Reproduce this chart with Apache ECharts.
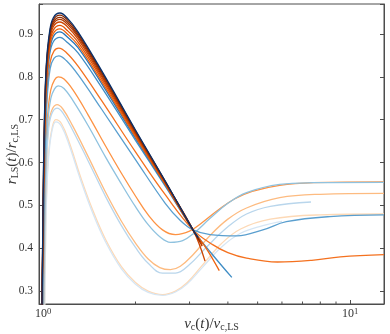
<!DOCTYPE html>
<html><head><meta charset="utf-8">
<script src="https://cdn.jsdelivr.net/npm/echarts@6/dist/echarts.min.js"></script>
<style>html,body{margin:0;padding:0;background:#fff}#c{width:390px;height:334px}</style>
</head><body><div id="c"></div>
<script>
// ---- data (x = v_c(t)/v_c,LS, y = r_LS(t)/r_c,LS) ----
const yTickValues = [0.3, 0.4, 0.5, 0.6, 0.7, 0.8, 0.9];
const xMinorTicks = [2, 3, 4, 5, 6, 7, 8, 9];

const O1 = [[1.01,0.2],[1.018,0.40],[1.028,0.54],[1.045,0.63],[1.07,0.68],[1.10,0.70],[1.15,0.69],[1.22,0.645],[1.32,0.57],[1.45,0.49],[1.6,0.42],[1.8,0.357],[2.0,0.32],[2.2,0.3],[2.45,0.292],[2.7,0.3],[2.95,0.32],[3.3,0.36],[3.8,0.41],[4.4,0.445],[5.5,0.468],[8,0.478],[12.9,0.48]];
const B1 = [[1.01,0.2],[1.018,0.39],[1.028,0.53],[1.045,0.62],[1.07,0.675],[1.10,0.695],[1.15,0.684],[1.22,0.638],[1.32,0.563],[1.45,0.483],[1.6,0.414],[1.8,0.352],[2.0,0.316],[2.2,0.297],[2.45,0.29],[2.7,0.298],[2.95,0.317],[3.3,0.355],[3.8,0.402],[4.4,0.435],[5.2,0.453],[6.0,0.463]];
const O2 = [[1.005,0.2],[1.015,0.45],[1.025,0.59],[1.04,0.68],[1.065,0.72],[1.11,0.735],[1.16,0.725],[1.25,0.685],[1.4,0.615],[1.6,0.53],[1.8,0.463],[2.0,0.412],[2.2,0.375],[2.4,0.355],[2.6,0.35],[2.8,0.358],[3.08,0.385],[3.5,0.43],[4.0,0.468],[4.6,0.494],[5.9,0.518],[8,0.526],[12.9,0.528]];
const B2 = [[1.005,0.2],[1.015,0.44],[1.025,0.58],[1.04,0.67],[1.065,0.712],[1.11,0.727],[1.16,0.716],[1.25,0.675],[1.4,0.605],[1.6,0.52],[1.8,0.453],[2.0,0.402],[2.2,0.365],[2.45,0.342],[2.7,0.342],[3.0,0.362],[3.4,0.402],[4.0,0.45],[4.6,0.48],[5.5,0.498],[7.46,0.508]];
const O3 = [[1.0,0.2],[1.01,0.45],[1.02,0.6],[1.035,0.71],[1.06,0.77],[1.09,0.793],[1.12,0.80],[1.17,0.795],[1.25,0.77],[1.4,0.712],[1.6,0.638],[1.8,0.575],[2.0,0.522],[2.2,0.478],[2.45,0.443],[2.7,0.432],[3.0,0.44],[3.3,0.46],[3.7,0.488],[4.2,0.515],[4.8,0.533],[5.9,0.547],[7.6,0.553],[12.9,0.555]];
const B3 = [[1.0,0.2],[1.01,0.44],[1.02,0.59],[1.035,0.69],[1.06,0.75],[1.09,0.772],[1.12,0.779],[1.17,0.773],[1.25,0.745],[1.4,0.687],[1.6,0.612],[1.8,0.55],[2.0,0.497],[2.2,0.455],[2.4,0.427],[2.6,0.414],[2.85,0.418],[3.1,0.435],[3.5,0.47],[4.0,0.505],[4.6,0.53],[5.9,0.549],[7.6,0.553],[12.9,0.554]];
const O4 = [[0.995,0.2],[1.005,0.45],[1.015,0.63],[1.03,0.76],[1.055,0.835],[1.085,0.86],[1.125,0.867],[1.19,0.857],[1.3,0.825],[1.55,0.745],[2.0,0.625],[2.5,0.525],[3.08,0.443],[3.58,0.408],[4.0,0.39],[4.6,0.377],[5.8,0.368],[7.5,0.372],[9.3,0.38],[12.9,0.385]];
const B4 = [[0.995,0.2],[1.005,0.44],[1.015,0.62],[1.03,0.745],[1.055,0.82],[1.085,0.843],[1.125,0.849],[1.19,0.838],[1.3,0.805],[1.55,0.725],[2.0,0.607],[2.5,0.505],[2.8,0.465],[3.08,0.443],[3.5,0.432],[4.28,0.429],[5.2,0.443],[6.2,0.462],[8.6,0.474],[12.9,0.478]];
const B5 = [[0.99,0.2],[1.0,0.42],[1.01,0.62],[1.025,0.765],[1.05,0.85],[1.08,0.882],[1.135,0.892],[1.2,0.880],[1.3,0.856],[1.55,0.776],[2.0,0.652],[2.5,0.545],[3.08,0.443],[3.5,0.392],[4.12,0.332]];
const B6 = [[0.99,0.2],[1.0,0.43],[1.01,0.63],[1.025,0.775],[1.05,0.86],[1.08,0.894],[1.135,0.905],[1.2,0.893],[1.3,0.868],[1.55,0.785],[2.0,0.657],[2.5,0.548],[3.08,0.443],[3.25,0.42]];
const O5 = [[0.99,0.2],[1.0,0.44],[1.01,0.64],[1.025,0.78],[1.05,0.866],[1.08,0.901],[1.135,0.912],[1.2,0.900],[1.3,0.874],[1.55,0.790],[2.0,0.660],[2.5,0.549],[3.08,0.443],[3.4,0.40],[3.75,0.348]];
const O6 = [[0.99,0.2],[1.0,0.45],[1.01,0.65],[1.025,0.79],[1.05,0.875],[1.08,0.909],[1.135,0.920],[1.2,0.908],[1.3,0.881],[1.55,0.796],[2.0,0.664],[2.5,0.551],[3.08,0.442],[3.3,0.41]];
const O7 = [[0.99,0.2],[1.0,0.46],[1.01,0.66],[1.025,0.80],[1.05,0.883],[1.08,0.917],[1.135,0.928],[1.2,0.917],[1.3,0.888],[1.55,0.801],[2.0,0.667],[2.5,0.553],[3.08,0.443],[3.37,0.37]];
const O8 = [[0.99,0.2],[1.0,0.47],[1.01,0.67],[1.025,0.81],[1.05,0.89],[1.08,0.923],[1.135,0.934],[1.2,0.923],[1.3,0.893],[1.55,0.805],[2.0,0.670],[2.5,0.554],[3.08,0.442],[3.3,0.405]];
const O9 = [[0.99,0.2],[1.0,0.48],[1.01,0.68],[1.025,0.82],[1.05,0.895],[1.08,0.928],[1.135,0.939],[1.2,0.928],[1.3,0.897],[1.55,0.809],[2.0,0.672],[2.5,0.555],[3.08,0.443],[3.25,0.415]];
const O10 = [[0.99,0.2],[1.0,0.49],[1.01,0.69],[1.025,0.825],[1.05,0.90],[1.08,0.933],[1.135,0.944],[1.2,0.933],[1.3,0.901],[1.55,0.812],[2.0,0.674],[2.5,0.556],[3.08,0.442],[3.22,0.42]];
const B10 = [[0.99,0.2],[1.0,0.50],[1.01,0.70],[1.025,0.83],[1.05,0.905],[1.08,0.938],[1.135,0.949],[1.2,0.937],[1.3,0.905],[1.55,0.815],[2.0,0.676],[2.5,0.557],[3.08,0.443],[3.2,0.425]];

const curves = [O1, B1, O2, B2, O3, B3, O4, B4, B5, B6, O5, O6, O7, O8, O9, O10, B10];
const curveColors = ['#fdd9b6','#d6e6f4','#fdbb80','#b9d6ec','#fd9344','#8fc2df','#f4711f','#5a9fcf','#3f8dc5','#2676b8','#ee6410','#e05306','#cc4603','#b23b03','#973003','#7f2704','#08306b'];

// ---- chart ----
const axisColor = '#4d4d4d';
const textColor = '#333';
const serif = 'Liberation Serif';
const chart = echarts.init(document.getElementById('c'), null, {renderer: 'canvas'});

const series = curves.map((d, i) => ({
  type: 'line', data: d, smooth: 0.4, showSymbol: false, symbol: 'none',
  lineStyle: {color: curveColors[i], width: 1.3}, clip: true, silent: true, z: 2 + i * 0.01
}));
series.push({
  type: 'custom', silent: true, clip: false, z: 10,
  data: xMinorTicks.map(v => [v, 0.27]), encode: {x: 0, y: 1},
  renderItem: (params, api) => {
    const p = api.coord([api.value(0), api.value(1)]);
    return {type: 'line', shape: {x1: p[0], y1: p[1], x2: p[0], y2: p[1] - 2.5},
            style: {stroke: axisColor, lineWidth: 1}};
  }
});

const near = (v, list) => list.some(t => Math.abs(t - v) < 1e-6);
const nameStyle = {
  fontFamily: serif, fontSize: 15, color: textColor,
  rich: {
    i: {fontFamily: serif, fontStyle: 'italic', fontSize: 15, color: textColor},
    n: {fontFamily: serif, fontSize: 15, color: textColor},
    sub: {fontFamily: serif, fontSize: 10, color: textColor, verticalAlign: 'bottom', padding: [5, 0, 0, 0]}
  }
};

chart.setOption({
  animation: false,
  grid: {left: 39, right: 6, top: 4, bottom: 30, show: true, borderColor: axisColor, borderWidth: 1, outerBoundsMode: 'none', containLabel: false},
  xAxis: [{
    type: 'log', logBase: 10, min: 0.97, max: 12.9,
    axisLine: {show: true, lineStyle: {color: axisColor, width: 1}},
    axisTick: {show: true, inside: true, length: 4, lineStyle: {color: axisColor, width: 1}},
    splitLine: {show: false}, minorTick: {show: false},
    axisLabel: {
      margin: 3, color: textColor, fontFamily: serif,
      formatter: v => { const l = Math.log10(v); const r = Math.round(l); return Math.abs(l - r) < 1e-6 ? '{b|10}{s|' + r + '}' : ''; },
      rich: {b: {fontSize: 12, fontFamily: serif, color: textColor, lineHeight: 14}, s: {fontSize: 8.5, fontFamily: serif, color: textColor, verticalAlign: 'top', lineHeight: 9}}
    },
    name: '{i|v}{sub|c}{n|(}{i|t}{n|)/}{i|v}{sub|c,LS}', nameLocation: 'middle', nameGap: 13,
    nameMoveOverlap: false,
    nameTextStyle: nameStyle
  }],
  yAxis: [{
    type: 'value', min: 0.27, max: 0.97, splitNumber: 7,
    axisLine: {show: true, lineStyle: {color: axisColor, width: 1}},
    axisTick: {show: true, inside: true, length: 4, lineStyle: {color: axisColor, width: 1}},
    splitLine: {show: false},
    axisLabel: {margin: 6, color: textColor, fontFamily: serif, fontSize: 11.5,
      formatter: v => near(v, yTickValues) ? v.toFixed(1) : ''},
    name: '{i|r}{sub|LS}{n|(}{i|t}{n|)/}{i|r}{sub|c,LS}', nameLocation: 'middle', nameGap: 19,
    nameMoveOverlap: false,
    nameTextStyle: nameStyle
  }, {
    type: 'value', min: 0.27, max: 0.97, splitNumber: 7, position: 'right',
    axisLine: {show: true, lineStyle: {color: axisColor, width: 1}},
    axisTick: {show: true, inside: true, length: 4, lineStyle: {color: axisColor, width: 1}},
    splitLine: {show: false}, axisLabel: {show: false}
  }],
  series: series
});
</script>
</body></html>
